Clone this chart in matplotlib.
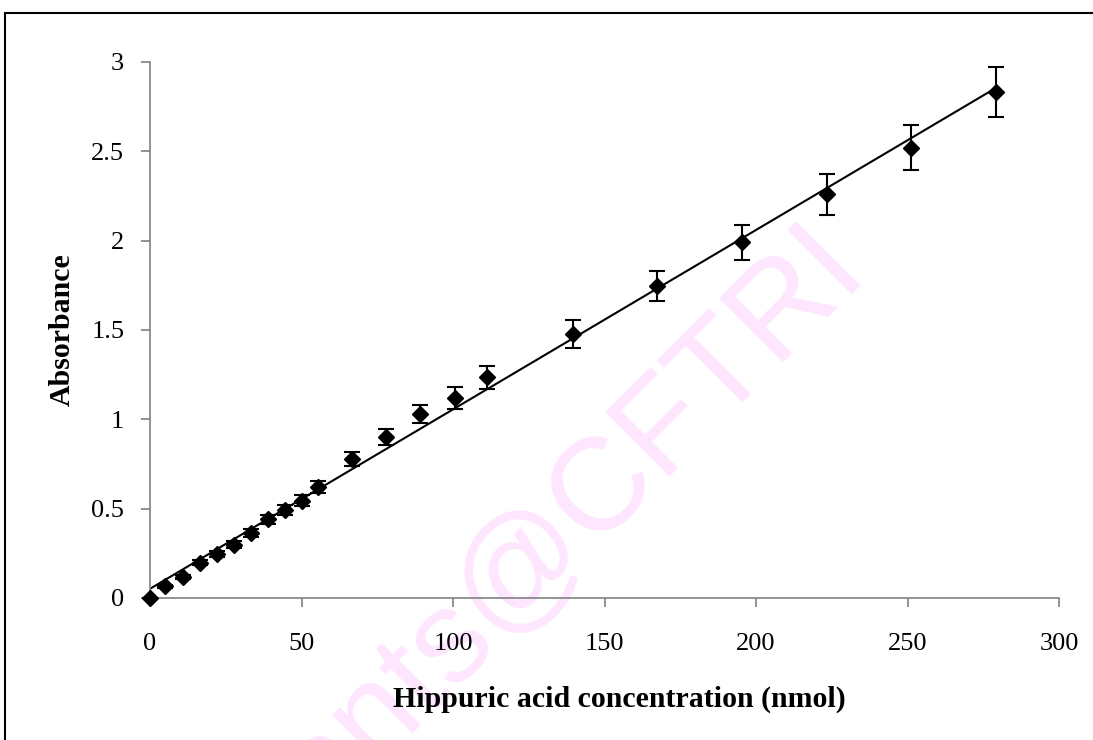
import numpy as np
import matplotlib.pyplot as plt
from matplotlib.patches import Rectangle

# hippuric acid standard curve
conc_nmol = [0, 5.0, 11.0, 16.5, 22.0, 27.7, 33.3, 38.9, 44.4, 50.0, 55.5,
             66.6, 77.8, 89.0, 100.5, 111.3, 139.5, 167.4, 195.3, 223.3, 251.2, 279.2]
absorbance = [0.0, 0.065, 0.116, 0.198, 0.246, 0.298, 0.362, 0.44, 0.49, 0.545, 0.623,
              0.776, 0.90, 1.03, 1.12, 1.235, 1.48, 1.745, 1.99, 2.26, 2.52, 2.83]
abs_sd = [0.0, 0.01, 0.012, 0.015, 0.018, 0.02, 0.022, 0.025, 0.028, 0.03, 0.033,
          0.039, 0.045, 0.053, 0.06, 0.065, 0.078, 0.083, 0.097, 0.115, 0.127, 0.14]
xticks = [0, 50, 100, 150, 200, 250, 300]
yticks = [0, 0.5, 1, 1.5, 2, 2.5, 3]
ytick_labels = ['0', '0.5', '1', '1.5', '2', '2.5', '3']

plt.rcParams['font.family'] = 'Liberation Serif'

W, H = 1093, 740
fig = plt.figure(figsize=(W/100, H/100), dpi=100)
ax = fig.add_axes([150/W, 1 - 598/H, 909/W, 536/H])

# faint watermark, drawn underneath the axes
fig.text(868/W, 1 - 272/H, 'Students@CFTRI', family='Liberation Sans',
         fontsize=95, color='#ffe6ff', rotation=45, rotation_mode='anchor',
         ha='right', va='baseline', zorder=-1)

# outer frame (left and top edges show)
fig.patches.append(Rectangle((5/W, -0.5), 2, 0.5 + (1 - 13/H), transform=fig.transFigure,
                             fill=False, edgecolor='black', linewidth=1.5, zorder=5))

ax.set_facecolor('none')

# linear trendline
coef = np.polyfit(conc_nmol, absorbance, 1)
xfit = np.array([0, max(conc_nmol)])
ax.plot(xfit, np.polyval(coef, xfit), color='black', lw=1.5, zorder=2)

ax.errorbar(conc_nmol, absorbance, yerr=abs_sd, fmt='D', color='black', ms=7.8,
            ecolor='black', elinewidth=1.5, capsize=6, capthick=1.5, zorder=3, clip_on=False)

ax.set_xlim(0, 300)
ax.set_ylim(0, 3)
ax.set_xticks(xticks)
ax.set_yticks(yticks)
ax.set_yticklabels(ytick_labels)

for side in ['top', 'right']:
    ax.spines[side].set_visible(False)
for side in ['left', 'bottom']:
    ax.spines[side].set_color('#808080')
    ax.spines[side].set_linewidth(1.2)

ax.tick_params(axis='both', direction='out', length=6.5, width=1.2, color='#808080',
               labelsize=19)
ax.tick_params(axis='x', pad=19)
ax.tick_params(axis='y', pad=12)

ax.set_xlabel('Hippuric acid concentration (nmol)', fontsize=21.5, fontweight='bold')
ax.xaxis.label.set_va('center')
ax.xaxis.set_label_coords((619 - 150)/909, -(699 - 598)/536)
ax.set_ylabel('Absorbance', fontsize=21.5, fontweight='bold')
ax.yaxis.label.set_va('center')
ax.yaxis.set_label_coords(-(150 - 62)/909, 0.5)

fig.savefig('out.png', dpi=100)
